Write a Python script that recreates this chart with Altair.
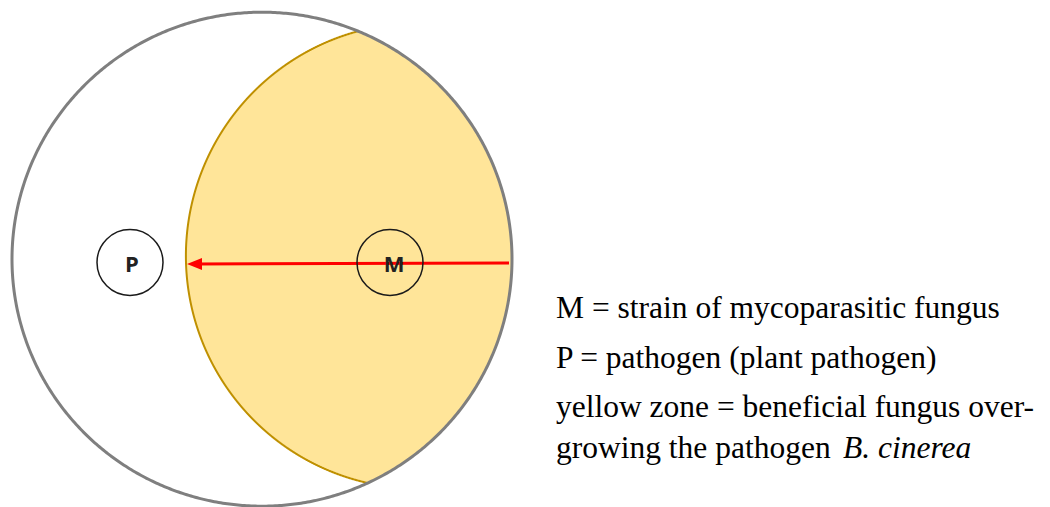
import altair as alt
import numpy as np
import pandas as pd

# ---------------- canvas (page pixel coordinates) ----------------
W, H = 1034, 499
X0, Y0 = 8, 8

# ---------------- diagram values ----------------
# Petri dish (outer ellipse)
dish_cx, dish_cy, dish_rx, dish_ry = 262, 259.2, 250, 247
# growth front of the mycoparasite (left boundary of yellow zone)
front_cx, front_cy, front_r = 418.6, 255.9, 232.7
# colonies
colony_labels = ["P", "M"]
colony_x = [130, 390]
colony_y = [262.5, 262.5]
label_x = [132, 394]
label_y = [265, 265]
# arrow from M's edge to the pathogen side
arrow_x = [509, 196]
arrow_y = [263, 264]
arrow_tip_x = [194.5]
arrow_tip_y = [264]
# legend text
legend_lines = [
    "M = strain of mycoparasitic fungus",
    "P = pathogen (plant pathogen)",
    "yellow zone = beneficial fungus over-",
    "growing the pathogen",
]
legend_x = [556, 556, 556, 556]
legend_y = [318, 368, 417, 458]
italic_text = ["B. cinerea"]
italic_x = [843]
italic_y = [458]

# ---------------- geometry tables ----------------
t = np.linspace(0, 2 * np.pi, 721)
dish_df = pd.DataFrame({
    "x": dish_cx + dish_rx * np.cos(t),
    "y": dish_cy + dish_ry * np.sin(t),
    "o": np.arange(len(t)),
})

ys = np.arange(dish_cy - dish_ry, dish_cy + dish_ry, 0.2)
xr = dish_cx + dish_rx * np.sqrt(np.clip(1 - ((ys - dish_cy) / dish_ry) ** 2, 0, None))
xl = front_cx - np.sqrt(np.clip(front_r ** 2 - (ys - front_cy) ** 2, 0, None))
keep = xl <= xr
lens_df = pd.DataFrame({"y": ys[keep], "xl": xl[keep], "xr": xr[keep]})
lens_df["o"] = np.arange(len(lens_df))

colony_df = pd.DataFrame({"label": colony_labels, "x": colony_x, "y": colony_y,
                          "lx": label_x, "ly": label_y})
arrow_df = pd.DataFrame({"x": arrow_x, "y": arrow_y, "o": [0, 1]})
tip_df = pd.DataFrame({"x": arrow_tip_x, "y": arrow_tip_y})
legend_df = pd.DataFrame({"text": legend_lines, "x": legend_x, "y": legend_y})
italic_df = pd.DataFrame({"text": italic_text, "x": italic_x, "y": italic_y})

xs = alt.Scale(domain=[X0, X0 + W], nice=False, zero=False)
yscale = alt.Scale(domain=[Y0, Y0 + H], nice=False, zero=False, reverse=True)


def X(f, **kw):
    return alt.X(f, type="quantitative", scale=xs, axis=None, **kw)


def Y(f, **kw):
    return alt.Y(f, type="quantitative", scale=yscale, axis=None, **kw)


lens = alt.Chart(lens_df).mark_area(orient="horizontal", color="#FFE599", opacity=1).encode(
    y=Y("y"), x=X("xl", stack=False), x2="xr")

front = alt.Chart(lens_df).mark_line(color="#BF9000", strokeWidth=2).encode(
    x=X("xl"), y=Y("y"), order="o:Q")

dish = alt.Chart(dish_df).mark_line(color="#7F7F7F", strokeWidth=3).encode(
    x=X("x"), y=Y("y"), order="o:Q")

arrow = alt.Chart(arrow_df).mark_line(color="#FF0000", strokeWidth=3).encode(
    x=X("x"), y=Y("y"), order="o:Q")

tip = alt.Chart(tip_df).mark_point(
    shape="M-1,0L1,-0.8L1,0.8Z", filled=True, color="#FF0000", opacity=1, size=225
).encode(x=X("x"), y=Y("y"))

colonies = alt.Chart(colony_df).mark_point(
    shape="circle", filled=False, color="#1a1a1a", strokeWidth=1.5, opacity=1, size=66 * 66
).encode(x=X("x"), y=Y("y"))

labels = alt.Chart(colony_df).mark_text(
    font="Open Sans", fontWeight="bold", fontSize=22, color="#222222", baseline="middle", align="center"
).encode(x=X("lx"), y=Y("ly"), text="label:N")

legend = alt.Chart(legend_df).mark_text(
    font="Liberation Serif", fontSize=31.5, color="#000000", align="left", baseline="alphabetic"
).encode(x=X("x"), y=Y("y"), text="text:N")

italic = alt.Chart(italic_df).mark_text(
    font="Liberation Serif", fontSize=31.5, fontStyle="italic", color="#000000", align="left",
    baseline="alphabetic"
).encode(x=X("x"), y=Y("y"), text="text:N")

chart = alt.layer(lens, front, dish, arrow, tip, colonies, labels, legend, italic).properties(
    width=W, height=H, padding=0, autosize=alt.AutoSizeParams(type="none")
).configure_view(strokeWidth=0, stroke="transparent")

chart.save("out.html", embed_options={"renderer": "svg", "actions": False})
